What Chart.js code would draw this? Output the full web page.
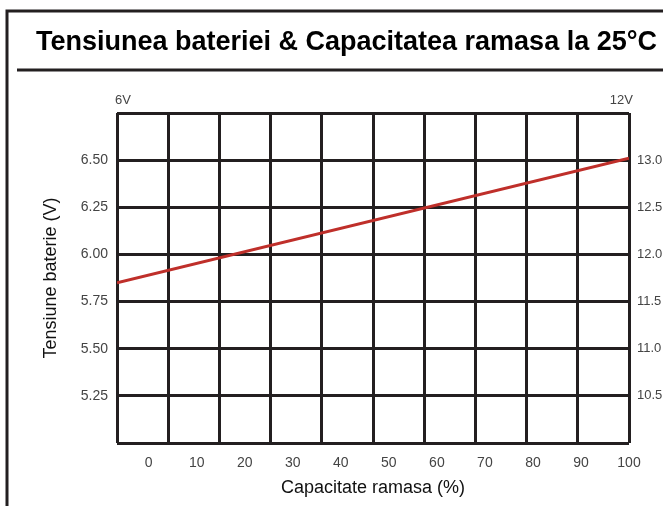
<!DOCTYPE html>
<html>
<head>
<meta charset="utf-8">
<script src="https://cdn.jsdelivr.net/npm/chart.js@4/dist/chart.umd.min.js"></script>
<style>
    body { margin: 0; background: #fff; }
    canvas { display: block; }
</style>
</head>
<body>
<canvas id="graficTensiune" width="663" height="506"></canvas>
<script>
    const titlu = 'Tensiunea bateriei & Capacitatea ramasa la 25°C';

    // capetele dreptei (capacitate % -> tensiune V)
    const capacitate = [-6.6, 100];
    const tensiune = [5.85, 6.51];

    const capacitateTicks = [0, 10, 20, 30, 40, 50, 60, 70, 80, 90, 100];
    const tensiuneTicks = [5.25, 5.5, 5.75, 6.0, 6.25, 6.5];
    const tensiune12Ticks = [10.5, 11.0, 11.5, 12.0, 12.5, 13.0];
    const eticheteSus = ['6V', '12V'];

    const fontIngust = "'Liberation Sans Narrow', 'Liberation Sans', sans-serif";
    const fontText = "'Liberation Sans', Arial, sans-serif";
    const negru = '#231f20';

    const puncte = capacitate.map((c, i) => ({ x: c, y: tensiune[i] }));

    //Chenarul paginii, titlul si etichetele 6V / 12V
    const chenar = {
        id: 'chenar',
        beforeDraw(chart) {
            const ctx = chart.ctx;
            ctx.save();
            ctx.fillStyle = '#fff';
            ctx.fillRect(0, 0, chart.width, chart.height);
            ctx.strokeStyle = negru;
            ctx.lineWidth = 3;
            ctx.beginPath();
            ctx.moveTo(7, 506); ctx.lineTo(7, 11); ctx.lineTo(663, 11);
            ctx.moveTo(17, 70); ctx.lineTo(663, 70);
            ctx.stroke();

            ctx.fillStyle = '#000';
            ctx.font = 'bold 27px ' + fontText;
            ctx.textAlign = 'right';
            ctx.textBaseline = 'middle';
            ctx.fillText(titlu, 657, 43);
            ctx.restore();
        },
        afterDraw(chart) {
            const ctx = chart.ctx;
            const a = chart.chartArea;
            ctx.save();
            ctx.font = '13px ' + fontIngust;
            ctx.fillStyle = '#444';
            ctx.textBaseline = 'middle';
            ctx.textAlign = 'left';
            ctx.fillText(eticheteSus[0], a.left - 2, a.top - 13);
            ctx.textAlign = 'right';
            ctx.fillText(eticheteSus[1], a.right + 4, a.top - 13);
            ctx.restore();
        }
    };

    const grafic = new Chart(document.getElementById('graficTensiune'), {
        type: 'line',
        data: {
            datasets: [{
                data: puncte,
                xAxisID: 'x',
                yAxisID: 'y',
                borderColor: '#bf2f2a',
                borderWidth: 3,
                pointRadius: 0,
                fill: false
            }]
        },
        options: {
            responsive: false,
            animation: false,
            devicePixelRatio: 1,
            layout: { padding: { left: 0, right: 0, top: 70, bottom: 0 } },
            plugins: {
                legend: { display: false },
                tooltip: { enabled: false },
                title: { display: false }
            },
            scales: {
                xg: {
                    type: 'linear',
                    position: 'top',
                    min: 0,
                    max: 10,
                    ticks: { display: false, stepSize: 1 },
                    grid: { color: negru, lineWidth: 3, drawTicks: false },
                    border: { display: false },
                    afterFit(s) { s.height = 43; }
                },
                x: {
                    type: 'linear',
                    position: 'bottom',
                    min: capacitate[0],
                    max: capacitate[1],
                    afterBuildTicks(s) { s.ticks = capacitateTicks.map(v => ({ value: v })); },
                    ticks: {
                        color: '#444',
                        padding: 12,
                        font: { family: fontIngust, size: 14 },
                        callback: v => String(v)
                    },
                    grid: { display: false, drawTicks: false },
                    border: { display: false },
                    title: {
                        display: true,
                        text: 'Capacitate ramasa (%)',
                        color: '#111',
                        font: { family: fontText, size: 18 },
                        padding: { top: 0, bottom: 7 }
                    },
                    afterFit(s) { s.height = 63; }
                },
                y: {
                    position: 'left',
                    min: 5.0,
                    max: 6.75,
                    ticks: {
                        stepSize: 0.25,
                        color: '#444',
                        padding: 9,
                        font: { family: fontIngust, size: 14 },
                        callback: v => tensiuneTicks.includes(v) ? v.toFixed(2) : ''
                    },
                    grid: { color: negru, lineWidth: 3, drawTicks: false },
                    border: { display: false },
                    title: {
                        display: true,
                        text: 'Tensiune baterie (V)',
                        color: '#111',
                        font: { family: fontText, size: 18 },
                        padding: { top: 40, bottom: 0 }
                    },
                    afterFit(s) { s.width = 117; }
                },
                y2: {
                    position: 'right',
                    min: 10.0,
                    max: 13.5,
                    ticks: {
                        stepSize: 0.5,
                        color: '#444',
                        padding: 8,
                        font: { family: fontIngust, size: 13 },
                        callback: v => tensiune12Ticks.includes(v) ? v.toFixed(1) : ''
                    },
                    grid: { display: false, drawTicks: false },
                    border: { display: false },
                    afterFit(s) { s.width = 34; }
                }
            }
        },
        plugins: [chenar]
    });
</script>
</body>
</html>
